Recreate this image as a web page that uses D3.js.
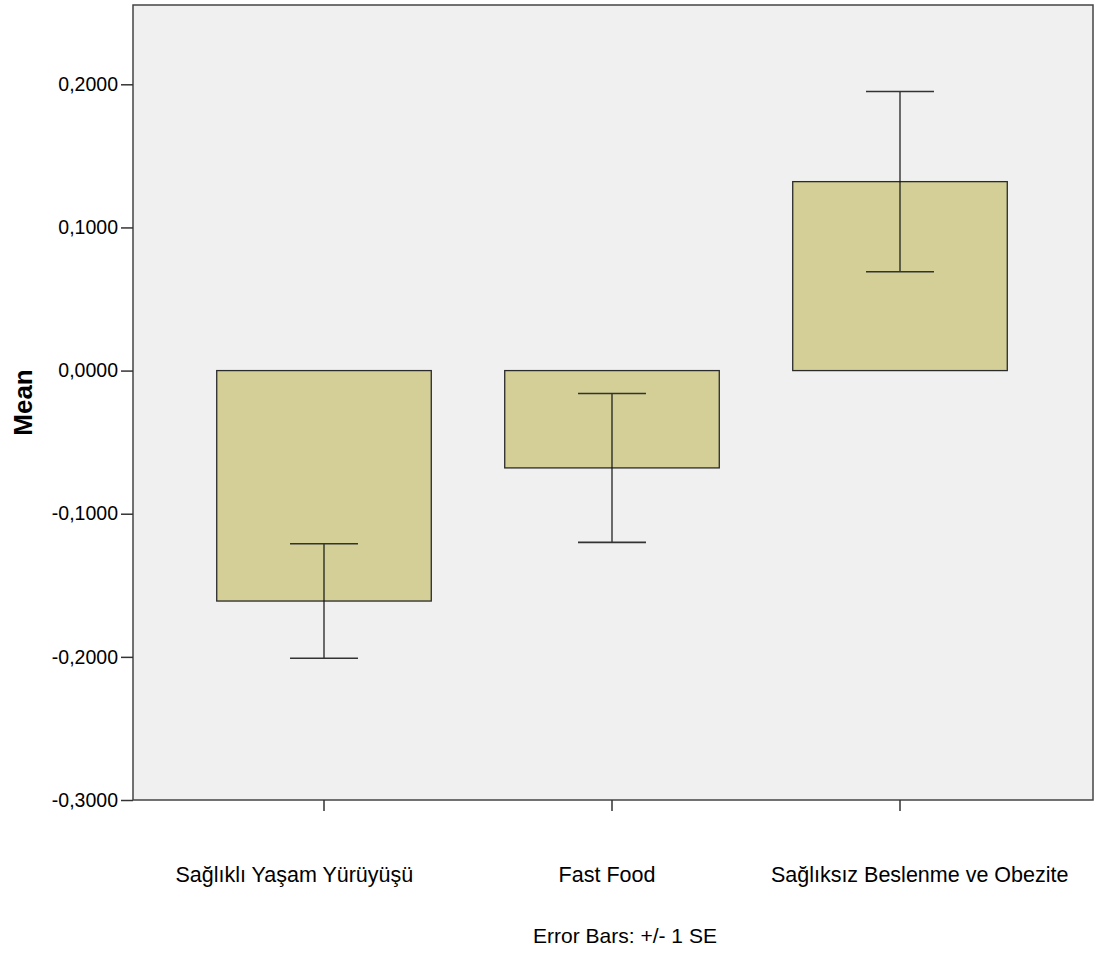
<!DOCTYPE html>
<html>
<head>
<meta charset="utf-8">
<script src="https://cdn.jsdelivr.net/npm/d3@7"></script>
<style>
  html, body { margin: 0; padding: 0; background: #ffffff; }
  svg { display: block; }
  text { font-family: Arial, "Liberation Sans", sans-serif; fill: #000; }
</style>
</head>
<body>
<svg id="chart" width="1098" height="954"></svg>
<script>
const categories = ["Sağlıklı Yaşam Yürüyüşü", "Fast Food", "Sağlıksız Beslenme ve Obezite"];
const means = [-0.161, -0.068, 0.132];
const standardErrors = [0.040, 0.052, 0.063];
const yTicks = [-0.3, -0.2, -0.1, 0.0, 0.1, 0.2];
const yAxisTitle = "Mean";
const footnote = "Error Bars: +/- 1 SE";

const svg = d3.select("#chart");
const plot = { left: 133, right: 1093, top: 5, bottom: 800 };

const y = d3.scaleLinear().domain([-0.3, 0.2554]).range([plot.bottom, plot.top]);
const x = d3.scaleBand().domain(categories).range([180, 1044]).padding(0);
// category labels are laid out on a slightly wider band than the bars
const xLabel = d3.scaleBand().domain(categories).range([138, 1076]).padding(0);
const barWidth = x.bandwidth() * 0.745;
const capWidth = x.bandwidth() * 0.236;
const cx = c => x(c) + x.bandwidth() / 2;
const lx = c => xLabel(c) + xLabel.bandwidth() / 2;

// plot background
svg.append("rect")
  .attr("x", plot.left).attr("y", plot.top)
  .attr("width", plot.right - plot.left).attr("height", plot.bottom - plot.top)
  .attr("fill", "#f0f0f0");

const data = categories.map((c, i) => ({ c, m: means[i], se: standardErrors[i] }));

// bars
svg.append("g").selectAll("rect").data(data).join("rect")
  .attr("x", d => cx(d.c) - barWidth / 2)
  .attr("y", d => y(Math.max(0, d.m)))
  .attr("width", barWidth)
  .attr("height", d => Math.abs(y(d.m) - y(0)))
  .attr("fill", "#d3cf97")
  .attr("stroke", "#2b2b2b")
  .attr("stroke-width", 1.3);

// error bars
const eb = svg.append("g").selectAll("g").data(data).join("g");
eb.append("line")
  .attr("x1", d => cx(d.c)).attr("x2", d => cx(d.c))
  .attr("y1", d => y(d.m + d.se)).attr("y2", d => y(d.m - d.se))
  .attr("stroke", "#111").attr("stroke-width", 1.2);
eb.append("line")
  .attr("x1", d => cx(d.c) - capWidth / 2).attr("x2", d => cx(d.c) + capWidth / 2)
  .attr("y1", d => y(d.m + d.se)).attr("y2", d => y(d.m + d.se))
  .attr("stroke", "#333").attr("stroke-width", 1.6);
eb.append("line")
  .attr("x1", d => cx(d.c) - capWidth / 2).attr("x2", d => cx(d.c) + capWidth / 2)
  .attr("y1", d => y(d.m - d.se)).attr("y2", d => y(d.m - d.se))
  .attr("stroke", "#333").attr("stroke-width", 1.6);

// plot frame
svg.append("rect")
  .attr("x", plot.left).attr("y", plot.top)
  .attr("width", plot.right - plot.left).attr("height", plot.bottom - plot.top)
  .attr("fill", "none").attr("stroke", "#444").attr("stroke-width", 1.5);

// y axis
const fmt = v => d3.format(".4f")(v).replace(".", ",").replace("−", "-");
const yAxis = d3.axisLeft(y).tickValues(yTicks).tickFormat(fmt).tickSize(12).tickPadding(3);
const gy = svg.append("g").attr("transform", `translate(${plot.left},0)`).call(yAxis);
gy.select(".domain").remove();
gy.selectAll(".tick line").attr("stroke", "#333").attr("stroke-width", 1.5);
gy.selectAll(".tick text").attr("font-size", 19.5).attr("font-family", "Arial, 'Liberation Sans', sans-serif").attr("fill", "#000");

// x axis ticks
const xAxis = d3.axisBottom(x).tickSize(11).tickFormat("");
const gx = svg.append("g").attr("transform", `translate(0,${plot.bottom})`).call(xAxis);
gx.select(".domain").remove();
gx.selectAll(".tick line").attr("stroke", "#333").attr("stroke-width", 1.5);

// category labels
svg.append("g").selectAll("text").data(categories).join("text")
  .attr("x", d => lx(d)).attr("y", 882)
  .attr("text-anchor", "middle")
  .attr("font-size", 21.5)
  .text(d => d);

// y title
svg.append("text")
  .attr("transform", `translate(32,${(plot.top + plot.bottom) / 2}) rotate(-90)`)
  .attr("text-anchor", "middle")
  .attr("font-size", 26).attr("font-weight", "bold")
  .text(yAxisTitle);

// footnote
svg.append("text")
  .attr("x", (plot.left + plot.right) / 2 + 12).attr("y", 943)
  .attr("text-anchor", "middle")
  .attr("font-size", 21)
  .text(footnote);
</script>
</body>
</html>
